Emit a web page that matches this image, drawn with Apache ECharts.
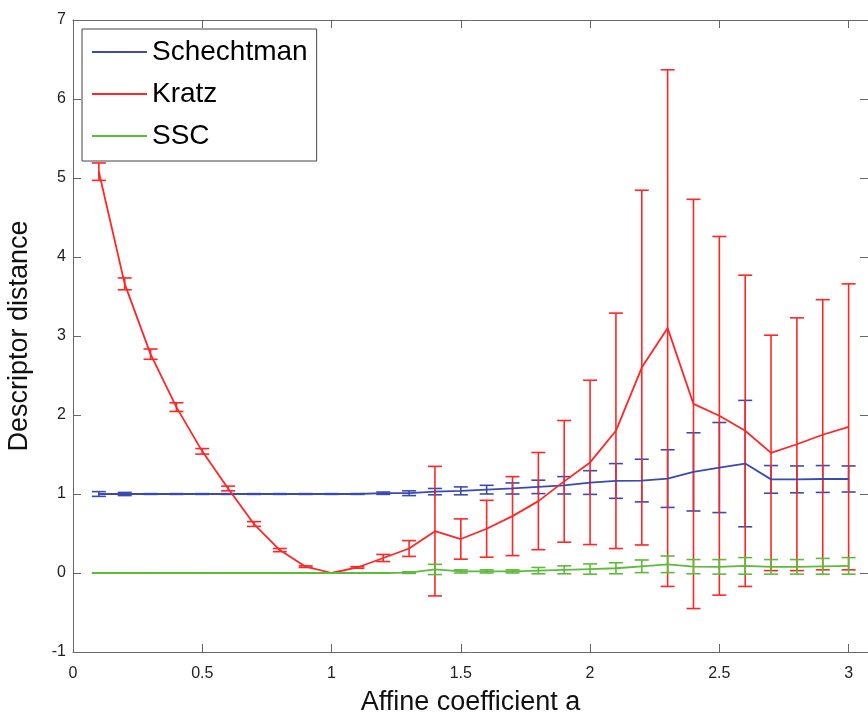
<!DOCTYPE html>
<html>
<head>
<meta charset="utf-8">
<style>
  html, body { margin: 0; padding: 0; background: #fff; }
  #chart { width: 868px; height: 715px; }
</style>
<script src="https://cdn.jsdelivr.net/npm/echarts@6/dist/echarts.min.js"></script>
</head>
<body>
<div id="chart"></div>
<script>
// Affine coefficient a (sample positions)
const affineA = [0.1, 0.2, 0.3, 0.4, 0.5, 0.6, 0.7, 0.8, 0.9, 1.0,
                 1.1, 1.2, 1.3, 1.4, 1.5, 1.6, 1.7, 1.8, 1.9, 2.0,
                 2.1, 2.2, 2.3, 2.4, 2.5, 2.6, 2.7, 2.8, 2.9, 3.0];

// Mean descriptor distance and standard deviation per method
const schechtmanMean = [1.0, 1.0, 1.0, 1.0, 1.0, 1.0, 1.0, 1.0, 1.0, 1.0,
                        1.0, 1.01, 1.01, 1.03, 1.04, 1.055, 1.07, 1.09, 1.11, 1.145,
                        1.165, 1.17, 1.195, 1.28, 1.335, 1.385, 1.185, 1.185, 1.19, 1.19];
const schechtmanStd  = [0.03, 0.02, 0.005, 0.005, 0.005, 0.005, 0.005, 0.005, 0.005, 0.005,
                        0.005, 0.015, 0.03, 0.04, 0.05, 0.055, 0.07, 0.085, 0.11, 0.15,
                        0.22, 0.27, 0.365, 0.495, 0.57, 0.8, 0.175, 0.17, 0.17, 0.165];

const kratzMean = [5.08, 3.66, 2.77, 2.10, 1.54, 1.07, 0.62, 0.29, 0.08, 0.0,
                   0.07, 0.19, 0.31, 0.53, 0.43, 0.56, 0.72, 0.91, 1.16, 1.40,
                   1.80, 2.60, 3.10, 2.14, 1.99, 1.80, 1.52, 1.63, 1.75, 1.85];
const kratzStd  = [0.11, 0.075, 0.065, 0.055, 0.035, 0.03, 0.03, 0.02, 0.01, 0.0,
                   0.01, 0.045, 0.1, 0.82, 0.255, 0.36, 0.5, 0.615, 0.77, 1.04,
                   1.49, 2.245, 3.27, 2.59, 2.27, 1.97, 1.49, 1.60, 1.71, 1.81];

const sscMean = [0.0, 0.0, 0.0, 0.0, 0.0, 0.0, 0.0, 0.0, 0.0, 0.0,
                 0.0, 0.0, 0.005, 0.045, 0.02, 0.02, 0.02, 0.03, 0.04, 0.05,
                 0.06, 0.085, 0.11, 0.08, 0.078, 0.09, 0.078, 0.078, 0.085, 0.09];
const sscStd  = [0.003, 0.003, 0.003, 0.003, 0.003, 0.003, 0.003, 0.003, 0.003, 0.003,
                 0.003, 0.003, 0.01, 0.065, 0.02, 0.02, 0.02, 0.04, 0.05, 0.065,
                 0.07, 0.08, 0.105, 0.09, 0.092, 0.105, 0.092, 0.092, 0.1, 0.105];

const xTicks = [0, 0.5, 1, 1.5, 2, 2.5, 3];
const yTicks = [-1, 0, 1, 2, 3, 4, 5, 6, 7];

const COLORS = { Schechtman: '#3a4bb0', Kratz: '#ff2626', SSC: '#5cbb3a' };
const AXIS_GRAY = '#666';
const FONT = '"Liberation Sans", Arial, Helvetica, sans-serif';

function lineData(mean) {
  return affineA.map((x, i) => [x, mean[i]]);
}
function barData(mean, std) {
  return affineA.map((x, i) => [x, mean[i] - std[i], mean[i] + std[i]]);
}

// Vertical error bar with horizontal caps at both ends
function errorBarRenderer(color) {
  return function (params, api) {
    const x = api.value(0);
    const lo = api.coord([x, api.value(1)]);
    const hi = api.coord([x, api.value(2)]);
    const hw = 7;
    const style = { stroke: color, lineWidth: 1.6, fill: null };
    return {
      type: 'group',
      children: [
        { type: 'line', shape: { x1: hi[0], y1: hi[1], x2: lo[0], y2: lo[1] }, style },
        { type: 'line', shape: { x1: hi[0] - hw, y1: hi[1], x2: hi[0] + hw, y2: hi[1] }, style },
        { type: 'line', shape: { x1: lo[0] - hw, y1: lo[1], x2: lo[0] + hw, y2: lo[1] }, style }
      ]
    };
  };
}

function methodSeries(name, mean, std) {
  const color = COLORS[name];
  return [
    {
      name: name,
      type: 'line',
      data: lineData(mean),
      symbol: 'none',
      lineStyle: { color, width: 1.8 },
      itemStyle: { color },
      animation: false
    },
    {
      name: name + ' std',
      type: 'custom',
      data: barData(mean, std),
      encode: { x: 0, y: [1, 2] },
      renderItem: errorBarRenderer(color),
      itemStyle: { color },
      animation: false
    }
  ];
}

const xMin = xTicks[0], xMax = 3.075;
const yMin = yTicks[0], yMax = yTicks[yTicks.length - 1];

const tickStyle = { inside: true, length: 8, lineStyle: { color: AXIS_GRAY, width: 1 } };
const lineStyleAxis = { show: true, onZero: false, lineStyle: { color: AXIS_GRAY, width: 1 } };
const labelStyle = { color: '#222', fontSize: 16, fontFamily: FONT };

const chart = echarts.init(document.getElementById('chart'), null, { renderer: 'canvas' });
chart.setOption({
  backgroundColor: '#fff',
  animation: false,
  grid: { left: 73, top: 20, right: 0, bottom: 63, containLabel: false, outerBoundsMode: 'none' },
  legend: {
    data: ['Schechtman', 'Kratz', 'SSC'],
    orient: 'vertical',
    left: 82,
    top: 29,
    padding: [8, 9, 10, 10],
    itemGap: 12,
    itemWidth: 55,
    itemHeight: 2,
    icon: 'rect',
    backgroundColor: '#fff',
    borderColor: '#444',
    borderWidth: 1,
    borderRadius: 0,
    textStyle: { color: '#000', fontSize: 28, lineHeight: 30, fontFamily: FONT },
    selectedMode: false
  },
  xAxis: [
    {
      type: 'value', min: xMin, max: xMax, interval: 0.5, position: 'bottom',
      name: 'Affine coefficient a', nameLocation: 'middle', nameGap: 37,
      nameTextStyle: { color: '#111', fontSize: 27, fontFamily: FONT },
      axisLine: lineStyleAxis, axisTick: tickStyle,
      axisLabel: Object.assign({
        margin: 14,
        showMaxLabel: false,
        formatter: v => (xTicks.some(t => Math.abs(t - v) < 1e-9) ? String(v) : '')
      }, labelStyle),
      splitLine: { show: false }
    },
    {
      type: 'value', min: xMin, max: xMax, interval: 0.5, position: 'top',
      axisLine: lineStyleAxis, axisTick: tickStyle,
      axisLabel: { show: false }, splitLine: { show: false }
    }
  ],
  yAxis: [
    {
      type: 'value', min: yMin, max: yMax, interval: 1, position: 'left',
      name: 'Descriptor distance', nameLocation: 'middle', nameGap: 40,
      nameTextStyle: { color: '#111', fontSize: 27, fontFamily: FONT },
      axisLine: lineStyleAxis, axisTick: tickStyle,
      axisLabel: Object.assign({ margin: 7 }, labelStyle),
      splitLine: { show: false }
    },
    {
      type: 'value', min: yMin, max: yMax, interval: 1, position: 'right',
      axisLine: lineStyleAxis, axisTick: tickStyle,
      axisLabel: { show: false }, splitLine: { show: false }
    }
  ],
  series: [
    ...methodSeries('Schechtman', schechtmanMean, schechtmanStd),
    ...methodSeries('Kratz', kratzMean, kratzStd),
    ...methodSeries('SSC', sscMean, sscStd)
  ]
});
</script>
</body>
</html>
